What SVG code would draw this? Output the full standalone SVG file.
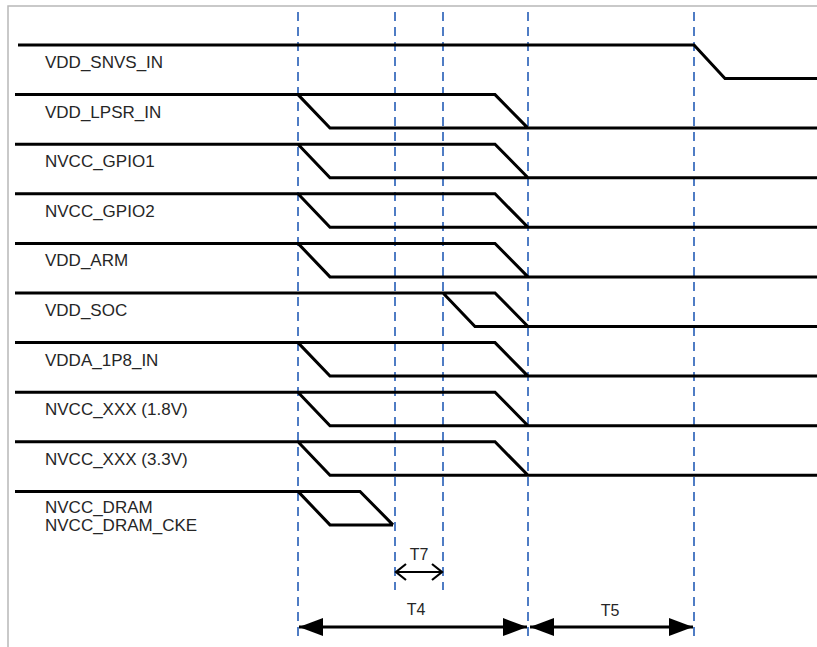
<svg xmlns="http://www.w3.org/2000/svg" width="817" height="647" viewBox="0 0 817 647">
<style>
.bg{fill:#ffffff}
.frame{fill:none;stroke:#b8b8b8;stroke-width:1.5}
.wave{fill:none;stroke:#000;stroke-width:3;stroke-linejoin:miter}
.lbl{font-family:"Liberation Sans",Arial,sans-serif;font-size:17px;fill:#262626}
.tl{font-family:"Liberation Sans",Arial,sans-serif;font-size:16px;fill:#262626;text-anchor:middle}
.grid{stroke:#4f7cc4;stroke-width:2;stroke-dasharray:9 6;fill:none}
.dim{stroke:#000;stroke-width:3;fill:none}
.dim2{stroke:#000;stroke-width:2;fill:none}
</style>
<defs>
<marker id="fa" markerUnits="userSpaceOnUse" markerWidth="26" markerHeight="20" refX="24" refY="9" orient="auto-start-reverse" viewBox="0 0 26 20">
<path d="M0,0 L24,9 L0,18 z" fill="#000"/>
</marker>
<marker id="oa" markerUnits="userSpaceOnUse" markerWidth="14" markerHeight="20" refX="11" refY="9" orient="auto-start-reverse" viewBox="0 0 14 20">
<path d="M1,1 L11,9 L1,17" fill="none" stroke="#000" stroke-width="2.2"/>
</marker>
</defs>
<rect class="bg" x="0" y="0" width="817" height="647"/>
<rect class="frame" x="8" y="6" width="830" height="660"/>
<g id="grid">
<line class="grid" x1="298" y1="12" x2="298" y2="642"/>
<line class="grid" x1="395" y1="12" x2="395" y2="590"/>
<line class="grid" x1="443" y1="12" x2="443" y2="590"/>
<line class="grid" x1="528" y1="12" x2="528" y2="642"/>
<line class="grid" x1="694" y1="12" x2="694" y2="642"/>
</g>
<g id="sig-vdd-snvs-in">
<path class="wave" d="M18,45 H694 L725,78.5 H817"/>
<text class="lbl" x="45" y="68">VDD_SNVS_IN</text>
</g>
<g id="sig-vdd-lpsr-in">
<path class="wave" d="M15,94.6 H495 L528,128.1 M298,94.6 L330,128.1 H817"/>
<text class="lbl" x="45" y="117.6">VDD_LPSR_IN</text>
</g>
<g id="sig-nvcc-gpio1">
<path class="wave" d="M15,144.2 H495 L528,177.7 M298,144.2 L330,177.7 H817"/>
<text class="lbl" x="45" y="167.2">NVCC_GPIO1</text>
</g>
<g id="sig-nvcc-gpio2">
<path class="wave" d="M15,193.8 H495 L528,227.3 M298,193.8 L330,227.3 H817"/>
<text class="lbl" x="45" y="216.8">NVCC_GPIO2</text>
</g>
<g id="sig-vdd-arm">
<path class="wave" d="M15,243.4 H495 L528,276.9 M298,243.4 L330,276.9 H817"/>
<text class="lbl" x="45" y="266.4">VDD_ARM</text>
</g>
<g id="sig-vdd-soc">
<path class="wave" d="M15,293 H495 L528,326.5 M443,293 L475,326.5 H817"/>
<text class="lbl" x="45" y="316">VDD_SOC</text>
</g>
<g id="sig-vdda-1p8-in">
<path class="wave" d="M15,342.6 H495 L528,376.1 M298,342.6 L330,376.1 H817"/>
<text class="lbl" x="45" y="365.6">VDDA_1P8_IN</text>
</g>
<g id="sig-nvcc-xxx-18">
<path class="wave" d="M15,392.2 H495 L528,425.7 M298,392.2 L330,425.7 H817"/>
<text class="lbl" x="45" y="415.2">NVCC_XXX (1.8V)</text>
</g>
<g id="sig-nvcc-xxx-33">
<path class="wave" d="M15,441.8 H495 L528,475.3 M298,441.8 L330,475.3 H817"/>
<text class="lbl" x="45" y="464.8">NVCC_XXX (3.3V)</text>
</g>
<g id="sig-nvcc-dram">
<path class="wave" d="M15,491.4 H360 L393,524.9 M298,491.4 L330,524.9 H393"/>
<text class="lbl" x="45" y="513.4">NVCC_DRAM</text>
<text class="lbl" x="45" y="531.4">NVCC_DRAM_CKE</text>
</g>
<g id="connectors">
<line class="dim2" x1="396" y1="572" x2="442" y2="572" marker-start="url(#oa)" marker-end="url(#oa)"/>
<line class="dim" x1="299" y1="627" x2="527" y2="627" marker-start="url(#fa)" marker-end="url(#fa)"/>
<line class="dim" x1="530" y1="627" x2="693" y2="627" marker-start="url(#fa)" marker-end="url(#fa)"/>
</g>
<g id="labels">
<text class="tl" x="419" y="560">T7</text>
<text class="tl" x="416" y="615">T4</text>
<text class="tl" x="610" y="616">T5</text>
</g>
</svg>
